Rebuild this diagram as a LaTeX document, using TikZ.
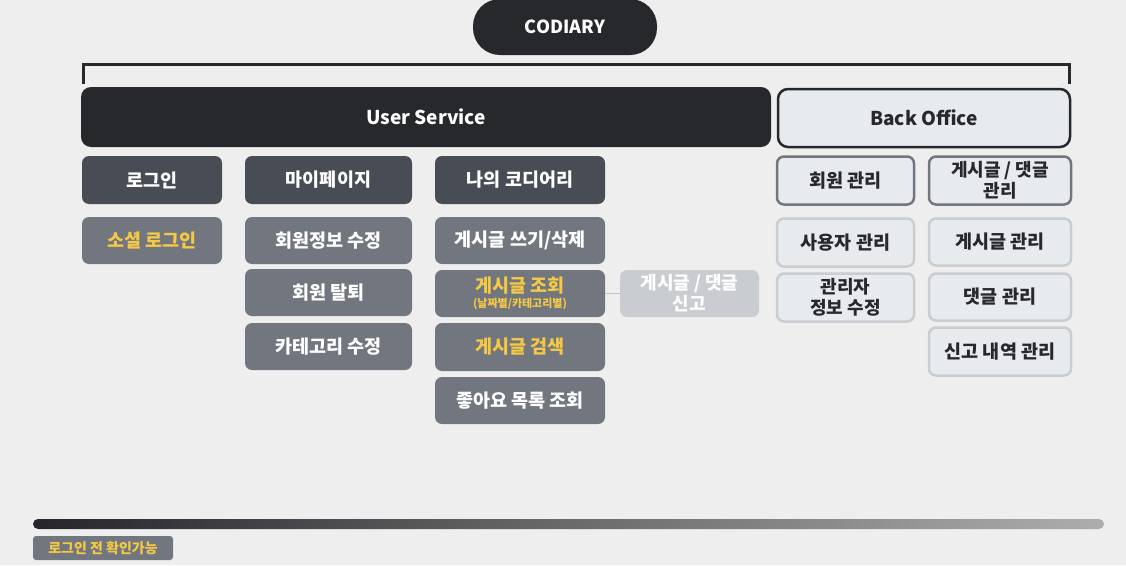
\documentclass[tikz,border=0pt]{standalone}
\usepackage{fontspec}
\setmainfont{Noto Sans CJK KR}
\begin{document}
\begin{tikzpicture}[x=1pt,y=-1pt,
  base/.style={rounded corners=7pt, align=center, font=\bfseries\fontsize{18.5}{20}\selectfont, inner sep=0pt},
  dark/.style={base, fill=c1, text=white},
  mid/.style={base, fill=c2, text=white},
  midy/.style={base, fill=c2, text=cy},
  pale/.style={base, fill=c3, text=white},
  boA/.style={base, fill=c4, draw=c2, line width=2.5pt, text=c0},
  boB/.style={base, fill=c4, draw=c3, line width=2.5pt, text=c0},
  two/.style={font=\bfseries\fontsize{18}{21}\selectfont},
  w1/.style={minimum width=140pt, minimum height=48pt},
  w2/.style={minimum width=167pt, minimum height=48pt},
  w3/.style={minimum width=170pt, minimum height=48pt},
  w4/.style={minimum width=137pt, minimum height=48pt},
  w5/.style={minimum width=142pt, minimum height=48pt},
]
\definecolor{bg}{HTML}{EEEEEE}
\definecolor{c0}{HTML}{27282C}
\definecolor{c1}{HTML}{474C55}
\definecolor{c2}{HTML}{72777F}
\definecolor{c3}{HTML}{C9CCD0}
\definecolor{c4}{HTML}{E8EBEE}
\definecolor{cy}{HTML}{F5C945}
\definecolor{ln}{HTML}{C0C3C6}
\fill[bg] (0,0) rectangle (1126,565);
\useasboundingbox (0,0) rectangle (1126,565);

% top
\node[base, fill=c0, text=white, rounded corners=27pt, minimum width=184pt, minimum height=56pt, font=\bfseries\fontsize{18}{20}\selectfont] (cod) at (565,27) {CODIARY};
\coordinate (bl) at (83,84);
\coordinate (br) at (1069,84);
\draw[c0, line width=3pt] (bl) |- (565,64) -| (br);

\node[base, fill=c0, text=white, rounded corners=10pt, minimum width=690pt, minimum height=60pt, font=\bfseries\fontsize{19}{22}\selectfont] (us) at (426,117) {User Service};
\node[base, fill=c4, draw=c0, line width=2.5pt, rounded corners=10pt, minimum width=292pt, minimum height=58pt, text=c0, font=\bfseries\fontsize{19}{22}\selectfont] (bo) at (924,118) {Back Office};

% user service columns
\node[dark, w1] (login) at (152,180) {로그인};
\node[midy, w1, minimum height=47pt] (social) at (152,240.5) {소셜 로그인};

\node[dark, w2] (mypage) at (328.5,180) {마이페이지};
\node[mid, w2, minimum height=47pt] (edit) at (328.5,240.5) {회원정보 수정};
\node[mid, w2, minimum height=47pt] (quit) at (328.5,292.5) {회원 탈퇴};
\node[mid, w2, minimum height=47pt] (cat) at (328.5,346.5) {카테고리 수정};

\node[dark, w3] (my) at (520,180) {나의 코디어리};
\node[mid, w3, minimum height=47pt] (write) at (520,240.5) {게시글 쓰기/삭제};
\node[midy, w3, minimum height=47pt] (view) at (520,293.5) {게시글 조회\\[-5pt]{\fontsize{11}{12}\selectfont (날짜별/카테고리별)}};
\node[midy, w3] (search) at (520,347) {게시글 검색};
\node[mid, w3, minimum height=47pt] (like) at (520,400.5) {좋아요 목록 조회};

\node[pale, two, minimum width=139pt, minimum height=47pt] (report) at (689.5,293.5) {게시글 / 댓글\\신고};
\draw[ln, line width=1.5pt] (view.east) -- (report.west);

% back office
\node[boA, w4, minimum height=48pt] (mem) at (845.5,180.5) {회원 관리};
\node[boA, two, w5, minimum height=48pt] (postc) at (1000,180.5) {게시글 / 댓글\\관리};
\node[boB, w4, minimum height=48pt] (user) at (845.5,242.5) {사용자 관리};
\node[boB, two, w4, minimum height=48pt] (admin) at (845.5,297.5) {관리자\\정보 수정};
\node[boB, w5, minimum height=47pt] (post) at (1000,242) {게시글 관리};
\node[boB, w5, minimum height=47pt] (cmt) at (1000,297) {댓글 관리};
\node[boB, w5, minimum height=48pt] (rep) at (1000,351.5) {신고 내역 관리};

% legend
\shade[left color=c0!95!black, right color=black!32, rounded corners=5pt] (33,519) rectangle (1104,529);
\node[base, fill=c2, text=cy, rounded corners=3pt, minimum width=140pt, minimum height=24pt, font=\bfseries\fontsize{14}{15}\selectfont] (leg) at (103,548) {로그인 전 확인가능};
\end{tikzpicture}
\end{document}
